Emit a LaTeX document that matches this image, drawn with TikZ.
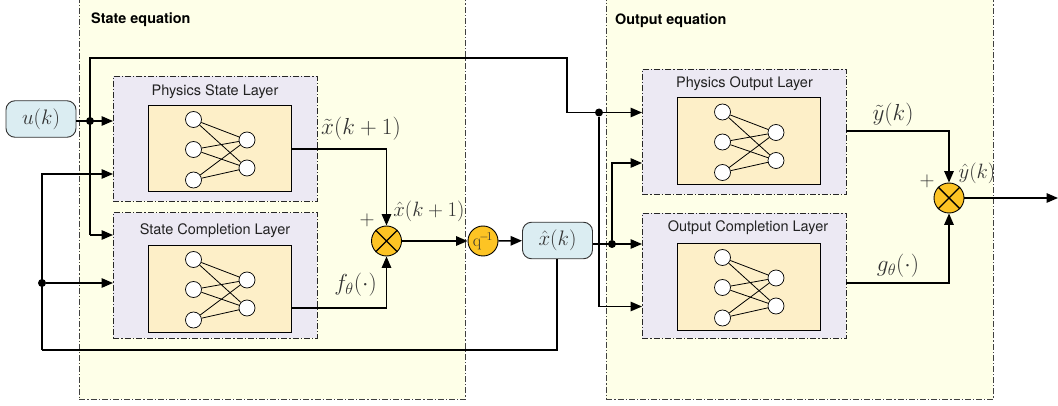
\RequirePackage{fix-cm}
\documentclass[tikz,border=0pt]{standalone}
\usepackage{fontspec}
\newfontfamily\hv{TeX Gyre Heros}
\usetikzlibrary{arrows.meta,calc}
\definecolor{panelc}{HTML}{FEFFE8}
\definecolor{layerc}{HTML}{ECE9F3}
\definecolor{innerc}{HTML}{FDEFC8}
\definecolor{bluec}{HTML}{DBEDF2}
\definecolor{orangec}{HTML}{FDC424}
\definecolor{inkc}{HTML}{222222}
\definecolor{mathc}{HTML}{333333}
\tikzset{
  x=1pt,y=-1pt,
  panel/.style={draw=black!75,fill=panelc,line width=.8pt,dash pattern=on 6pt off 2pt on 1.2pt off 2pt,anchor=north west,inner sep=0pt},
  layer/.style={draw=black!85,fill=layerc,line width=.8pt,dash pattern=on 6pt off 2pt on 1.2pt off 2pt,anchor=north west,inner sep=0pt,minimum width=204pt,minimum height=125pt},
  innerbox/.style={draw=black,fill=innerc,line width=.8pt,anchor=north west,inner sep=0pt,minimum width=143pt,minimum height=86.5pt},
  neuron/.style={circle,draw=black,fill=white,line width=.7pt,minimum size=16pt,inner sep=0pt},
  edge/.style={draw=black,line width=.8pt},
  conn/.style={draw=black,line width=1.5pt},
  arr/.style={conn,-{Triangle[length=11.5pt,width=9.5pt]}},
  term/.style={draw=black!80,fill=bluec,line width=.9pt,rounded corners=9pt,minimum width=70pt,minimum height=36.5pt,inner sep=0pt,font=\fontsize{21}{22}\selectfont,text=mathc},
  mult/.style={circle,draw=black,fill=orangec,line width=.9pt,minimum size=30pt,inner sep=0pt},
  dotj/.style={circle,fill=black,minimum size=8pt,inner sep=0pt},
  lab/.style={font=\fontsize{20.74}{22}\selectfont,text=mathc,inner sep=0pt},
  labl/.style={font=\fontsize{23.2}{24}\selectfont,text=mathc,inner sep=0pt},
  ltitle/.style={font=\hv\fontsize{14.5}{16}\selectfont,text=inkc,inner sep=0pt},
  ptitle/.style={font=\hv\bfseries\fontsize{14.4}{16}\selectfont,text=black,inner sep=0pt,anchor=west},
}
\newcommand{\nnet}[3]{% prefix, left x, top y of inner box
  \node[neuron] (#1a) at (#2+45.5,#3+14.5) {};
  \node[neuron] (#1b) at (#2+45.5,#3+44.5) {};
  \node[neuron] (#1c) at (#2+45.5,#3+75) {};
  \node[neuron] (#1d) at (#2+99,#3+35) {};
  \node[neuron] (#1e) at (#2+99,#3+63) {};
  \foreach \s in {a,b,c}{\foreach \t in {d,e}{\path[edge] (#1\s) -- (#1\t);}}
}
\newcommand{\crossx}[1]{%
  \draw[line width=1.4pt] (#1.north west) -- (#1.south east) (#1.north east) -- (#1.south west);
}
\begin{document}
\begin{tikzpicture}
\clip (0,0) rectangle (1058,406);
\fill[white] (0,0) rectangle (1058,406);
% panels
\node[panel,minimum width=386pt,minimum height=409pt] (sp) at (79,-10) {};
\node[panel,minimum width=387pt,minimum height=409pt] (op) at (606,-10) {};
\node[ptitle] (st) at (91,20) {State equation};
\node[ptitle] (ot) at (615,21) {Output equation};
% layers
\node[layer] (psl) at (113,76) {};
\node[layer] (scl) at (113,212.5) {};
\node[layer] (pol) at (642,69) {};
\node[layer] (ocl) at (642,213) {};
\node[ltitle] (pslt) at (215,91.5) {Physics State Layer};
\node[ltitle] (sclt) at (215,230.5) {State Completion Layer};
\node[ltitle] (polt) at (744.5,83.5) {Physics Output Layer};
\node[ltitle] (oclt) at (748,227.5) {Output Completion Layer};
\node[innerbox] (psi) at (148,105) {};
\node[innerbox] (sci) at (148,245) {};
\node[innerbox] (poi) at (676.5,97.5) {};
\node[innerbox] (oci) at (677,243) {};
\nnet{p}{148}{105}
\nnet{s}{148}{245}
\nnet{q}{677}{97.5}
\nnet{o}{677}{243}
% terminals and operators
\node[term] (u) at (41,119) {$u(k)$};
\node[term] (xh) at (557.5,240.5) {$\hat{x}(k)$};
\node[mult] (m1) at (386.5,241) {};
\node[mult] (m2) at (949,198) {};
\crossx{m1}
\crossx{m2}
\node[circle,draw=black,fill=orangec,line width=.9pt,minimum size=30pt,inner sep=0pt,font=\fontsize{17.28}{18}\selectfont,text=mathc] (qi) at (483,241) {q$^{\!-\!1}$};
% junctions
\node[dotj] (j1) at (90,121) {};
\node[dotj] (j2) at (42,283) {};
\node[dotj] (j3) at (599,112.5) {};
\node[dotj] (j4) at (612,244) {};
% free ends
\coordinate (c1) at (90,58);
\coordinate (c2) at (567,58);
\coordinate (c3) at (567,112.5);
\coordinate (c4) at (90,235);
\coordinate (c5) at (42,174);
\coordinate (c6) at (42,350);
\coordinate (c7) at (612,163);
\coordinate (c8) at (599,306.5);
\coordinate (out) at (1058,198);
\coordinate (x1) at (291,149);
\coordinate (x2) at (291,308);
\coordinate (y1) at (846,131);
\coordinate (y2) at (846,283);
\coordinate (xb) at (557,259);
% connectors
\path[arr] (u.east |- j1) -- (psl.west |- j1);
\path[conn] (c4) -- (c1) -- (c2) -- (c3) -- (j3);
\path[arr] (c4) -- (scl.west |- c4);
\path[arr] (c3) -- (pol.west |- c3);
\path[arr] (c6) -- (c5) -- (psl.west |- c5);
\path[arr] (j2) -- (scl.west |- j2);
\path[conn] (xb) -- (xb |- c6) -- (c6);
\path[conn] (j3) -- (c8);
\path[arr] (c8) -- (ocl.west |- c8);
\path[arr] (xh.east |- j4) -- (ocl.west |- j4);
\path[arr] (j4) -- (c7) -- (pol.west |- c7);
\path[arr] (x1) -| (m1.north);
\path[arr] (x2) -| (m1.south);
\path[arr] (m1) -- (qi);
\path[arr] (qi) -- (xh);
\path[arr] (y1) -| (m2.north);
\path[arr] (y2) -| (m2.south);
\path[arr] (m2) -- (out);
% labels
\node[labl] (l1) at (361,129) {$\tilde{x}(k+1)$};
\node[labl] (l2) at (355.5,285) {$f_\theta(\cdot)$};
\node[lab] (l3) at (367,220) {$+$};
\node[lab] (l4) at (429,211) {$\hat{x}(k+1)$};
\node[labl] (l5) at (893,115) {$\tilde{y}(k)$};
\node[labl] (l6) at (898,266) {$g_\theta(\cdot)$};
\node[lab] (l7) at (927,181) {$+$};
\node[lab] (l8) at (977,173) {$\hat{y}(k)$};
\end{tikzpicture}
\end{document}
